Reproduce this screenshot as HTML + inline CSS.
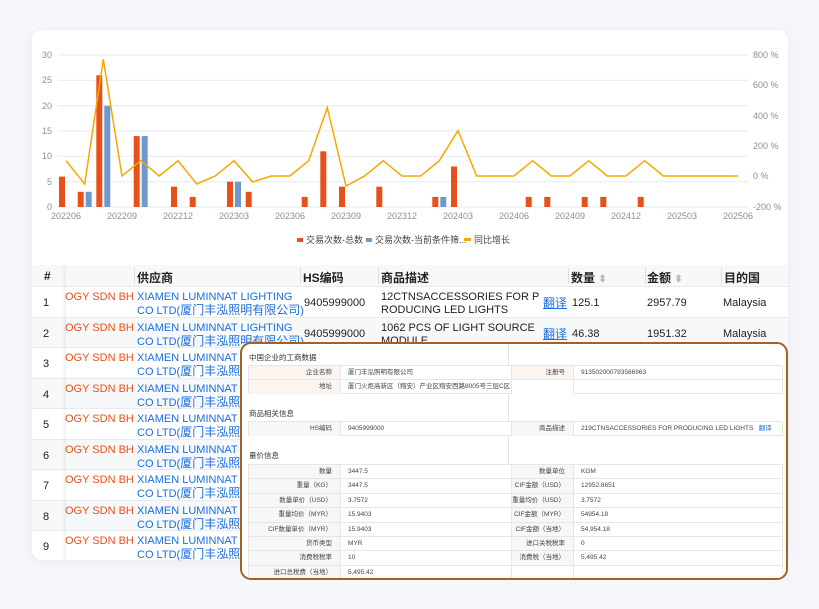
<!DOCTYPE html>
<html><head><meta charset="utf-8"><style>
*{margin:0;padding:0;box-sizing:border-box}
body{width:819px;height:609px;overflow:hidden;background:#f4f6f9;font-family:"Liberation Sans","Noto Sans CJK SC",sans-serif;position:relative}
.card{position:absolute;left:32px;top:30px;width:756px;height:530px;background:#fff;border-radius:10px;box-shadow:0 2px 10px rgba(0,0,0,.05)}
.a{position:absolute;white-space:nowrap}
.row{position:absolute;left:32px;width:756px;height:30.5px;border-bottom:1px solid #e8eaee}
.c{position:absolute;font-size:11px;line-height:13px;color:#222;white-space:nowrap}
.c i{font-style:normal;font-size:12px}
.red{color:#e8501a}.blue{color:#1a6fe0}
.h{position:absolute;top:269px;font-size:12px;font-weight:bold;color:#222;white-space:nowrap}
.ov{position:absolute;left:240px;top:342px;width:548px;height:238px;border:2px solid #a65f25;border-radius:11px;background:#fff;overflow:hidden}
.ov .t{position:absolute;font-size:7.5px;color:#333}
.ov .tb{position:absolute;border:1px solid #e6e6e6;background:#fff}
.ov .r{position:absolute;left:0;right:0;border-bottom:1px solid #e6e6e6;font-size:6.5px;color:#444}
.ov .lb{position:absolute;text-align:right;padding-right:8px;border-right:1px solid #e6e6e6;height:100%;background:#f7f7f7}
.ov .vl{position:absolute;padding-left:7px;height:100%}
</style></head><body>
<div class="card"></div>
<svg class="a" style="left:0;top:0" width="819" height="260" font-family="Liberation Sans" font-size="9" fill="#8a8f99">
<g stroke="#e8eaee" stroke-width="1">
<line x1="58" y1="55" x2="748" y2="55"/><line x1="58" y1="80.3" x2="748" y2="80.3"/><line x1="58" y1="105.7" x2="748" y2="105.7"/><line x1="58" y1="131" x2="748" y2="131"/><line x1="58" y1="156.3" x2="748" y2="156.3"/><line x1="58" y1="181.7" x2="748" y2="181.7"/><line x1="58" y1="207" x2="748" y2="207"/>
</g>
<g text-anchor="end"><text x="52" y="58">30</text><text x="52" y="83">25</text><text x="52" y="109">20</text><text x="52" y="134">15</text><text x="52" y="159">10</text><text x="52" y="185">5</text><text x="52" y="210">0</text></g>
<g><text x="753" y="58">800 %</text><text x="753" y="88">600 %</text><text x="753" y="119">400 %</text><text x="753" y="149">200 %</text><text x="753" y="179">0 %</text><text x="753" y="210">-200 %</text></g>
<g text-anchor="middle"><text x="66" y="219">202206</text><text x="122" y="219">202209</text><text x="178" y="219">202212</text><text x="234" y="219">202303</text><text x="290" y="219">202306</text><text x="346" y="219">202309</text><text x="402" y="219">202312</text><text x="458" y="219">202403</text><text x="514" y="219">202406</text><text x="570" y="219">202409</text><text x="626" y="219">202412</text><text x="682" y="219">202503</text><text x="738" y="219">202506</text></g>
<g fill="#e8501a">
<rect x="59" y="176.6" width="6" height="30.4"/><rect x="77.7" y="191.8" width="6" height="15.2"/><rect x="96.3" y="75.3" width="6" height="131.7"/><rect x="133.7" y="136.1" width="6" height="70.9"/><rect x="171" y="186.7" width="6" height="20.3"/><rect x="189.7" y="196.9" width="6" height="10.1"/><rect x="227" y="181.7" width="6" height="25.3"/><rect x="245.7" y="191.8" width="6" height="15.2"/><rect x="301.7" y="196.9" width="6" height="10.1"/><rect x="320.3" y="151.3" width="6" height="55.7"/><rect x="339" y="186.7" width="6" height="20.3"/><rect x="376.3" y="186.7" width="6" height="20.3"/><rect x="432.3" y="196.9" width="6" height="10.1"/><rect x="451" y="166.5" width="6" height="40.5"/><rect x="525.7" y="196.9" width="6" height="10.1"/><rect x="544.3" y="196.9" width="6" height="10.1"/><rect x="581.7" y="196.9" width="6" height="10.1"/><rect x="600.3" y="196.9" width="6" height="10.1"/><rect x="637.7" y="196.9" width="6" height="10.1"/>
</g>
<g fill="#7098cc">
<rect x="85.7" y="191.8" width="6" height="15.2"/><rect x="104.3" y="105.7" width="6" height="101.3"/><rect x="141.7" y="136.1" width="6" height="70.9"/><rect x="235" y="181.7" width="6" height="25.3"/><rect x="440.3" y="196.9" width="6" height="10.1"/>
</g>
<polyline fill="none" stroke="#f5a800" stroke-width="1.5" points="66,160.7 84.7,184 103.3,59.3 122,176 140.7,160.7 159.3,176 178,160.7 196.7,184 215.3,176 234,160.7 252.7,182 271.3,176 290,176 308.7,160.7 327.3,107.7 346,186 364.7,176 383.3,160.7 402,176 420.7,176 439.3,160.7 458,130.7 476.7,176 495.3,176 514,176 532.7,160.7 551.3,176 570,176 588.7,160.7 607.3,176 626,176 644.7,160.7 663.3,176 682,176 700.7,176 719.3,176 738,176"/>
<rect x="297" y="238" width="6" height="4" fill="#e8501a"/><text x="306" y="243" fill="#444">交易次数-总数</text>
<rect x="366" y="238" width="6" height="4" fill="#7098cc"/><text x="375" y="243" fill="#444">交易次数-当前条件筛...</text>
<rect x="464" y="238" width="7" height="3" fill="#f5a800"/><text x="474" y="243" fill="#444">同比增长</text>
</svg>

<div class="a" style="left:32px;top:265px;width:756px;height:22px;background:#f7f8fa;border-bottom:1px solid #e8eaee"></div>
<div class="h" style="left:44px">#</div>
<div class="h" style="left:137px">供应商</div>
<div class="h" style="left:303px">HS编码</div>
<div class="h" style="left:381px">商品描述</div>
<div class="h" style="left:571px">数量 <span style="color:#bbb;font-size:10px">⬍</span></div>
<div class="h" style="left:647px">金额 <span style="color:#bbb;font-size:10px">⬍</span></div>
<div class="h" style="left:724px">目的国</div>
<div class="a" style="left:134px;top:268px;width:1px;height:16px;background:#ddd"></div>
<div class="a" style="left:300px;top:268px;width:1px;height:16px;background:#ddd"></div>
<div class="a" style="left:378px;top:268px;width:1px;height:16px;background:#ddd"></div>
<div class="a" style="left:568px;top:268px;width:1px;height:16px;background:#ddd"></div>
<div class="a" style="left:645px;top:268px;width:1px;height:16px;background:#ddd"></div>
<div class="a" style="left:721px;top:268px;width:1px;height:16px;background:#ddd"></div>

<div class="row" style="top:287px"><div class="c" style="left:11px;top:10px">1</div><div class="c red" style="left:33px;top:4px">OGY SDN BH</div><div class="c blue" style="left:105px;top:4px">XIAMEN LUMINNAT LIGHTING<br>CO LTD(<i>厦门丰泓照明有限公司</i>)</div><div class="c" style="left:272px;top:10px">9405999000</div><div class="c" style="left:349px;top:4px">12CTNSACCESSORIES FOR P<br>RODUCING LED LIGHTS</div><div class="c blue" style="left:511px;top:10px;text-decoration:underline"><i>翻译</i></div><div class="c" style="left:540px;top:10px">125.1</div><div class="c" style="left:615px;top:10px">2957.79</div><div class="c" style="left:691px;top:10px">Malaysia</div></div>
<div class="row" style="top:317.5px;background:#f7f8fa"><div class="c" style="left:11px;top:10px">2</div><div class="c red" style="left:33px;top:4px">OGY SDN BH</div><div class="c blue" style="left:105px;top:4px">XIAMEN LUMINNAT LIGHTING<br>CO LTD(<i>厦门丰泓照明有限公司</i>)</div><div class="c" style="left:272px;top:10px">9405999000</div><div class="c" style="left:349px;top:4px">1062 PCS OF LIGHT SOURCE<br>MODULE</div><div class="c blue" style="left:511px;top:10px;text-decoration:underline"><i>翻译</i></div><div class="c" style="left:540px;top:10px">46.38</div><div class="c" style="left:615px;top:10px">1951.32</div><div class="c" style="left:691px;top:10px">Malaysia</div></div>
<div class="row" style="top:348px"><div class="c" style="left:11px;top:10px">3</div><div class="c red" style="left:33px;top:4px">OGY SDN BH</div><div class="c blue" style="left:105px;top:4px">XIAMEN LUMINNAT LIGHTING<br>CO LTD(<i>厦门丰泓照明有限公司</i>)</div></div>
<div class="row" style="top:378.5px;background:#f7f8fa"><div class="c" style="left:11px;top:10px">4</div><div class="c red" style="left:33px;top:4px">OGY SDN BH</div><div class="c blue" style="left:105px;top:4px">XIAMEN LUMINNAT LIGHTING<br>CO LTD(<i>厦门丰泓照明有限公司</i>)</div></div>
<div class="row" style="top:409px"><div class="c" style="left:11px;top:10px">5</div><div class="c red" style="left:33px;top:4px">OGY SDN BH</div><div class="c blue" style="left:105px;top:4px">XIAMEN LUMINNAT LIGHTING<br>CO LTD(<i>厦门丰泓照明有限公司</i>)</div></div>
<div class="row" style="top:439.5px;background:#f7f8fa"><div class="c" style="left:11px;top:10px">6</div><div class="c red" style="left:33px;top:4px">OGY SDN BH</div><div class="c blue" style="left:105px;top:4px">XIAMEN LUMINNAT LIGHTING<br>CO LTD(<i>厦门丰泓照明有限公司</i>)</div></div>
<div class="row" style="top:470px"><div class="c" style="left:11px;top:10px">7</div><div class="c red" style="left:33px;top:4px">OGY SDN BH</div><div class="c blue" style="left:105px;top:4px">XIAMEN LUMINNAT LIGHTING<br>CO LTD(<i>厦门丰泓照明有限公司</i>)</div></div>
<div class="row" style="top:500.5px;background:#f7f8fa"><div class="c" style="left:11px;top:10px">8</div><div class="c red" style="left:33px;top:4px">OGY SDN BH</div><div class="c blue" style="left:105px;top:4px">XIAMEN LUMINNAT LIGHTING<br>CO LTD(<i>厦门丰泓照明有限公司</i>)</div></div>
<div class="row" style="top:531px;border-bottom:none"><div class="c" style="left:11px;top:10px">9</div><div class="c red" style="left:33px;top:4px">OGY SDN BH</div><div class="c blue" style="left:105px;top:4px">XIAMEN LUMINNAT LIGHTING<br>CO LTD(<i>厦门丰泓照明有限公司</i>)</div></div>
<div class="a" style="left:62px;top:265px;width:4px;height:295px;background:linear-gradient(90deg,rgba(0,0,0,0),rgba(0,0,0,.06))"></div>

<div class="ov">
<div class="a" style="left:266px;top:0;width:1px;height:238px;background:#e6e6e6"></div>
<div class="t" style="left:7px;top:8px">中国企业的工商数据</div>
<div class="tb" style="left:6px;top:21px;width:535px;height:29px">
<div class="r" style="top:0;height:14px"><div class="lb" style="left:0;width:92px;line-height:13px;background:#fcf4ee">企业名称</div><div class="vl" style="left:92px;line-height:13px">厦门丰泓照明有限公司</div><div class="lb" style="left:262px;width:63px;line-height:13px;background:#fcf4ee;border-left:1px solid #e6e6e6">注册号</div><div class="vl" style="left:325px;line-height:13px">913502000793586963</div></div>
<div class="r" style="top:14px;height:14px;border-bottom:none"><div class="lb" style="left:0;width:92px;line-height:13px;background:#fcf4ee">地址</div><div class="vl" style="left:92px;line-height:13px">厦门火炬高新区（翔安）产业区翔安西路8005号三层C区</div><div class="lb" style="left:262px;width:63px;background:#fff;border-left:1px solid #e6e6e6"></div></div>
</div>
<div class="t" style="left:7px;top:64px">商品相关信息</div>
<div class="tb" style="left:6px;top:77px;width:535px;height:15px">
<div class="r" style="top:0;height:14px;border-bottom:none"><div class="lb" style="left:0;width:92px;line-height:13px">HS编码</div><div class="vl" style="left:92px;line-height:13px">9405999000</div><div class="lb" style="left:262px;width:63px;line-height:13px;border-left:1px solid #e6e6e6">商品描述</div><div class="vl" style="left:325px;line-height:13px">219CTNSACCESSORIES FOR PRODUCING LED LIGHTS &nbsp;&nbsp;<span style="color:#1a6fe0">翻译</span></div></div>
</div>
<div class="t" style="left:7px;top:106px">量价信息</div>
<div class="tb" style="left:6px;top:120px;width:535px;height:120px">
<div class="r" style="top:0;height:14.4px"><div class="lb" style="left:0;width:92px;line-height:13px">数量</div><div class="vl" style="left:92px;line-height:13px">3447.5</div><div class="lb" style="left:262px;width:63px;line-height:13px;border-left:1px solid #e6e6e6">数量单位</div><div class="vl" style="left:325px;line-height:13px">KGM</div></div>
<div class="r" style="top:14.4px;height:14.4px"><div class="lb" style="left:0;width:92px;line-height:13px">重量（KG）</div><div class="vl" style="left:92px;line-height:13px">3447.5</div><div class="lb" style="left:262px;width:63px;line-height:13px;border-left:1px solid #e6e6e6">CIF金额（USD）</div><div class="vl" style="left:325px;line-height:13px">12952.8651</div></div>
<div class="r" style="top:28.8px;height:14.4px"><div class="lb" style="left:0;width:92px;line-height:13px">数量单价（USD）</div><div class="vl" style="left:92px;line-height:13px">3.7572</div><div class="lb" style="left:262px;width:63px;line-height:13px;border-left:1px solid #e6e6e6">重量均价（USD）</div><div class="vl" style="left:325px;line-height:13px">3.7572</div></div>
<div class="r" style="top:43.2px;height:14.4px"><div class="lb" style="left:0;width:92px;line-height:13px">重量均价（MYR）</div><div class="vl" style="left:92px;line-height:13px">15.9403</div><div class="lb" style="left:262px;width:63px;line-height:13px;border-left:1px solid #e6e6e6">CIF金额（MYR）</div><div class="vl" style="left:325px;line-height:13px">54954.18</div></div>
<div class="r" style="top:57.6px;height:14.4px"><div class="lb" style="left:0;width:92px;line-height:13px">CIF数量单价（MYR）</div><div class="vl" style="left:92px;line-height:13px">15.9403</div><div class="lb" style="left:262px;width:63px;line-height:13px;border-left:1px solid #e6e6e6">CIF金额（当地）</div><div class="vl" style="left:325px;line-height:13px">54,954.18</div></div>
<div class="r" style="top:72px;height:14.4px"><div class="lb" style="left:0;width:92px;line-height:13px">货币类型</div><div class="vl" style="left:92px;line-height:13px">MYR</div><div class="lb" style="left:262px;width:63px;line-height:13px;border-left:1px solid #e6e6e6">进口关税税率</div><div class="vl" style="left:325px;line-height:13px">0</div></div>
<div class="r" style="top:86.4px;height:14.4px"><div class="lb" style="left:0;width:92px;line-height:13px">消费税税率</div><div class="vl" style="left:92px;line-height:13px">10</div><div class="lb" style="left:262px;width:63px;line-height:13px;border-left:1px solid #e6e6e6">消费税（当地）</div><div class="vl" style="left:325px;line-height:13px">5,495.42</div></div>
<div class="r" style="top:100.8px;height:14.4px;border-bottom:none"><div class="lb" style="left:0;width:92px;line-height:13px">进口总税费（当地）</div><div class="vl" style="left:92px;line-height:13px">5,495.42</div><div class="lb" style="left:262px;width:63px;background:#fff;border-left:1px solid #e6e6e6"></div></div>
</div>
</div>
</body></html>
